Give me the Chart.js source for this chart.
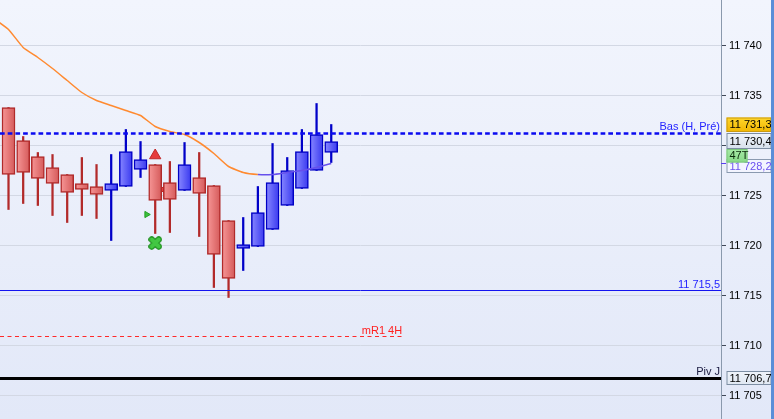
<!DOCTYPE html>
<html>
<head>
<meta charset="utf-8">
<script src="https://cdn.jsdelivr.net/npm/chart.js@4.4.1/dist/chart.umd.min.js"></script>
<style>
  html, body { margin: 0; padding: 0; background: #eaeffb; }
  #wrap { width: 774px; height: 419px; }
</style>
</head>
<body>
<div id="wrap"><canvas id="myChartCandles" width="774" height="419"></canvas></div>
<script>
  // BOUGIES (index 0 = première bougie à gauche)
  const opens  = [11733.8, 11730.5, 11728.9, 11727.8, 11727.1, 11726.2, 11725.9, 11725.5, 11725.9, 11727.6, 11728.1, 11726.3,
                  11725.5, 11726.8, 11726.0, 11722.5, 11719.7, 11719.9, 11721.6, 11724.0, 11725.7, 11727.5, 11729.3];
  const highs  = [11733.8, 11730.9, 11729.3, 11729.1, 11727.1, 11728.8, 11728.1, 11729.1, 11731.6, 11730.4, 11728.1, 11728.4,
                  11730.3, 11729.3, 11726.0, 11722.5, 11722.8, 11725.9, 11730.2, 11728.8, 11731.6, 11734.2, 11732.1];
  const lows   = [11723.6, 11724.2, 11724.0, 11723.0, 11722.3, 11723.0, 11722.7, 11720.5, 11725.9, 11726.8, 11721.2, 11721.3,
                  11725.5, 11720.9, 11715.8, 11714.8, 11717.5, 11719.9, 11721.6, 11724.0, 11725.7, 11727.5, 11728.3];
  const closes = [11727.1, 11727.3, 11726.7, 11726.2, 11725.3, 11725.6, 11725.1, 11726.2, 11729.4, 11728.6, 11724.5, 11724.6,
                  11728.1, 11725.2, 11719.1, 11716.7, 11720.1, 11723.3, 11726.3, 11727.5, 11729.4, 11731.1, 11730.4];

  // MOYENNE MOBILE (commence une bougie avant l'écran)
  const maStart = -1;
  const maValues = [11742.7, 11741.6, 11739.8, 11738.8, 11737.7, 11736.5, 11735.3, 11734.5, 11734.0, 11733.5, 11733.0, 11731.9,
                    11731.4, 11731.1, 11730.3, 11729.2, 11727.9, 11727.3, 11727.1, 11727.1, 11727.3, 11727.5, 11727.8, 11728.2];

  // NIVEAUX
  const levelValues = [11731.3, 11715.5, 11710.9, 11706.7];
  const levelNames  = ["Bas (H, Pré)", "11 715,5", "mR1 4H", "Piv J"];

  // AXE DE PRIX
  const tickValues = [11705, 11710, 11715, 11720, 11725, 11730, 11735, 11740];
  const lastPrice = 11730.4;
  const tickCounter = "47T";

  // SIGNAUX
  const sellSignalX = [10],   sellSignalY = [11729.0];
  const buyFlagX    = [9.42], buyFlagY    = [11723.1];
  const exitFlagX   = [10.52], exitFlagY  = [11725.6];
  const crossX      = [10],   crossY      = [11720.25];

  // fenêtre visible en index de bougie
  const xFrom = -0.58, xTo = 48.57;

  function fmt(v) {
    const p = v.toFixed(1).split(".");
    const i = p[0].replace(/\B(?=(\d{3})+(?!\d))/g, " ");
    return p[1] === "0" ? i : i + "," + p[1];
  }
  function fmt1(v) {
    const p = v.toFixed(1).split(".");
    return p[0].replace(/\B(?=(\d{3})+(?!\d))/g, " ") + "," + p[1];
  }

  const idx = opens.map((_, i) => i);
  const up = idx.map(i => closes[i] >= opens[i]);

  function bodyFill(ctx) {
    const solid = up[ctx.dataIndex] ? "#5c5cf8" : "#e47272";
    const chart = ctx.chart;
    if (!chart.scales || !chart.scales.x || !ctx.raw) return solid;
    const px = chart.scales.x.getPixelForValue(ctx.raw.x);
    if (!isFinite(px)) return solid;
    const g = chart.ctx.createLinearGradient(px - 6, 0, px + 6, 0);
    if (up[ctx.dataIndex]) { g.addColorStop(0, "#8585ff"); g.addColorStop(1, "#3c3cf0"); }
    else { g.addColorStop(0, "#f59494"); g.addColorStop(1, "#d65c5c"); }
    return g;
  }

  function makeClover() {
    const c = document.createElement("canvas");
    c.width = 14; c.height = 14;
    const g = c.getContext("2d");
    g.lineCap = "round";
    g.beginPath();
    g.moveTo(3.5, 3.5); g.lineTo(10.5, 10.5);
    g.moveTo(10.5, 3.5); g.lineTo(3.5, 10.5);
    g.strokeStyle = "#1f911f"; g.lineWidth = 6.5; g.stroke();
    g.strokeStyle = "#42c742"; g.lineWidth = 4; g.stroke();
    return c;
  }

  const levelStyles = [
    { color: "#0a0af0", width: 2.5, dash: [4.7, 3], text: "#2424ff" },
    { color: "#1414f0", width: 1, dash: [], text: "#2424ff" },
    { color: "#ff2a2a", width: 1, dash: [4, 3.5], text: "#ff2020", toIndex: 26.9 },
    { color: "#000000", width: 3, dash: [], text: "#1a1a40" }
  ];

  const bgPlugin = {
    id: "bg",
    beforeDraw(chart) {
      const c = chart.ctx;
      const g = c.createLinearGradient(0, 0, 0, chart.height);
      g.addColorStop(0, "#f2f5fd");
      g.addColorStop(1, "#e2e8f8");
      c.save(); c.fillStyle = g; c.fillRect(0, 0, chart.width, chart.height); c.restore();
    }
  };

  const levelPlugin = {
    id: "levels",
    afterDatasetsDraw(chart) {
      const c = chart.ctx, a = chart.chartArea, y = chart.scales.y, x = chart.scales.x;
      c.save();
      c.font = "11px 'Liberation Sans', Arial, sans-serif";
      c.textAlign = "right";
      c.textBaseline = "alphabetic";
      levelValues.forEach((v, k) => {
        const s = levelStyles[k];
        const py = Math.round(y.getPixelForValue(v)) + (s.width % 2 ? 0.5 : 0);
        const xEnd = s.toIndex != null ? x.getPixelForValue(s.toIndex) : a.right;
        c.strokeStyle = s.color; c.lineWidth = s.width; c.setLineDash(s.dash);
        c.beginPath(); c.moveTo(a.left, py); c.lineTo(xEnd, py); c.stroke();
        c.fillStyle = s.text;
        c.fillText(levelNames[k], xEnd - 1, py - 2.5 - s.width / 2);
      });
      c.restore();
    }
  };

  function box(c, x, top, w, h, fill, stroke, text, color) {
    c.fillStyle = fill; c.fillRect(x, top, w, h);
    c.strokeStyle = stroke; c.lineWidth = 1; c.strokeRect(x + 0.5, top + 0.5, w - 1, h - 1);
    c.fillStyle = color; c.fillText(text, x + 3, top + h / 2 + 0.5);
  }
  function vgrad(c, top, h, a, b) {
    const g = c.createLinearGradient(0, top, 0, top + h);
    g.addColorStop(0, a); g.addColorStop(1, b);
    return g;
  }

  const axisPlugin = {
    id: "axisBoxes",
    afterDraw(chart) {
      const c = chart.ctx, y = chart.scales.y, a = chart.chartArea;
      const bx = a.right + 5.5, bw = 45;
      c.save();
      c.font = "11px 'Liberation Sans', Arial, sans-serif";
      c.textAlign = "left"; c.textBaseline = "middle";
      // prix courant
      const pY = y.getPixelForValue(lastPrice);
      const pTop = Math.round(pY - 8);
      // moyenne mobile
      const maV = maValues[maValues.length - 1];
      const mTop = pTop + 26;
      box(c, bx, mTop, bw, 14, "#f3f5ff", "#8a9ab0", fmt1(maV), "#6a4ff0");
      c.strokeStyle = "#5a40f0"; c.beginPath(); c.moveTo(a.right, Math.round(y.getPixelForValue(maV)) + 0.5);
      c.lineTo(a.right + 5, Math.round(y.getPixelForValue(maV)) + 0.5); c.stroke();
      // niveau haut
      box(c, bx, pTop - 15.5, bw, 14.5, vgrad(c, pTop - 15, 15, "#ffd529", "#f0b400"), "#c99a10", fmt1(levelValues[0]), "#000");
      box(c, bx, pTop, bw, 16, vgrad(c, pTop, 16, "#f0f4fa", "#d6e0ec"), "#7d8ea3", fmt1(lastPrice), "#000");
      box(c, bx, pTop + 16, 21, 13.5, vgrad(c, pTop + 16, 14, "#a6eaa6", "#86d886"), "#7cc87c", tickCounter, "#0c2a0c");
      // pivot
      const vY = Math.round(y.getPixelForValue(levelValues[3]));
      box(c, bx, vY - 7, bw, 14, vgrad(c, vY - 7, 14, "#f0f4fa", "#dfe7f2"), "#7d8ea3", fmt1(levelValues[3]), "#000");
      // bord droit
      c.fillStyle = "#5a8ed8";
      c.fillRect(chart.width - 3, 0, 3, chart.height);
      c.restore();
    }
  };

  const config_candles = {
    type: "bar",
    data: {
      datasets: [
        {
          type: "line",
          label: "Moyenne",
          data: maValues.map((v, i) => ({ x: maStart + i, y: v })),
          borderColor: "#ff8a30",
          borderWidth: 1.5,
          pointRadius: 0,
          tension: 0.15,
          segment: { borderColor: ctx => ctx.p0.parsed.x >= 17 ? "#6650ec" : "#ff8a30" },
          order: 0
        },
        {
          type: "line", label: "Vente", showLine: false, order: 0,
          data: sellSignalX.map((v, i) => ({ x: v, y: sellSignalY[i] })),
          pointStyle: "triangle", pointRadius: 6.5, backgroundColor: "#e63c3c", borderColor: "#c02828", borderWidth: 1
        },
        {
          type: "line", label: "Achat", showLine: false, order: 0,
          data: buyFlagX.map((v, i) => ({ x: v, y: buyFlagY[i] })),
          pointStyle: "triangle", rotation: 90, pointRadius: 3.6, backgroundColor: "#3cc03c", borderColor: "#22a022", borderWidth: 1
        },
        {
          type: "line", label: "Sortie", showLine: false, order: 3,
          data: exitFlagX.map((v, i) => ({ x: v, y: exitFlagY[i] })),
          pointStyle: "triangle", rotation: -90, pointRadius: 3.8, backgroundColor: "#e63c3c", borderColor: "#c02828", borderWidth: 1
        },
        {
          type: "line", label: "Croix", showLine: false, order: 0,
          data: crossX.map((v, i) => ({ x: v, y: crossY[i] })),
          pointStyle: makeClover(), pointRadius: 7
        },
        {
          label: "Corps",
          data: idx.map(i => ({ x: i, y: [opens[i], closes[i]] })),
          backgroundColor: bodyFill,
          borderColor: idx.map(i => up[i] ? "#0000c4" : "#b02a2a"),
          borderWidth: 1.5,
          borderSkipped: false,
          barThickness: 13,
          grouped: false,
          order: 1
        },
        {
          label: "Mèches",
          data: idx.map(i => ({ x: i, y: [lows[i], highs[i]] })),
          backgroundColor: idx.map(i => up[i] ? "#0000c8" : "#b22a2a"),
          borderWidth: 0,
          barThickness: 1.6,
          grouped: false,
          order: 2
        }
      ]
    },
    options: {
      responsive: false,
      animation: false,
      devicePixelRatio: 1,
      layout: { padding: 0, autoPadding: false },
      plugins: { legend: { display: false }, tooltip: { enabled: false } },
      scales: {
        x: {
          type: "linear",
          min: xFrom,
          max: xTo,
          offset: false,
          bounds: "data",
          afterDataLimits: s => { s.min = xFrom; s.max = xTo; },
          display: false
        },
        y: {
          position: "right",
          min: 11702.65,
          max: 11744.55,
          afterBuildTicks: s => { s.ticks = tickValues.map(v => ({ value: v })); },
          afterFit: s => { s.width = 53; s.paddingTop = 0; s.paddingBottom = 0; },
          ticks: {
            callback: v => fmt(v),
            color: "#000",
            padding: 3,
            font: { family: "'Liberation Sans', Arial, sans-serif", size: 11 }
          },
          grid: { color: "#d3d8e4", tickColor: "#404858", tickLength: 5 },
          border: { color: "#8a99ad", width: 1 }
        }
      }
    },
    plugins: [bgPlugin, levelPlugin, axisPlugin]
  };

  var myChartCandles = new Chart(document.getElementById("myChartCandles"), config_candles);
</script>
</body>
</html>
